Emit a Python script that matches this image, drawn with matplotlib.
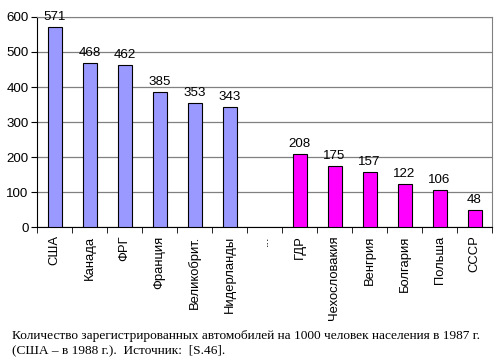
import matplotlib
matplotlib.use('Agg')
import matplotlib.pyplot as plt
import numpy as np

# data
countries = ['США', 'Канада', 'ФРГ', 'Франция', 'Великобрит.', 'Нидерланды',
             '...', 'ГДР', 'Чехословакия', 'Венгрия', 'Болгария', 'Польша', 'СССР']
cars = [571, 468, 462, 385, 353, 343, None, 208, 175, 157, 122, 106, 48]
group = ['west'] * 6 + [None] + ['east'] * 6
colors = {'west': '#9999FF', 'east': '#FF00FF'}
yticks = [0, 100, 200, 300, 400, 500, 600]
caption = ('Количество зарегистрированных автомобилей на 1000 человек населения в 1987 г.\n'
           '(США – в 1988 г.).  Источник:  [S.46].')

plt.rcParams['font.family'] = ['Liberation Sans', 'DejaVu Sans']

f = plt.figure(figsize=(5, 3.6), dpi=100)
ax = f.add_axes([0.074, 0.369, 0.910, 0.584])

x = np.arange(len(countries))
for i, (v, g) in enumerate(zip(cars, group)):
    if v is None:
        continue
    ax.bar(x[i], v, width=0.4, color=colors[g], edgecolor='black', linewidth=0.8, zorder=3)
    ax.text(x[i], v + 12, str(v), ha='center', va='bottom', fontsize=9.6)

ax.set_xlim(-0.5, len(countries) - 0.5)
ax.set_ylim(0, 600)
ax.set_yticks(yticks)
ax.tick_params(axis='y', labelsize=9.6, length=4, direction='out', pad=2)
ax.yaxis.grid(True, color='#808080', linewidth=0.9, zorder=0)

ax.set_xticks(x)
ax.set_xticklabels(countries, rotation=90, fontsize=9.4)
ax.set_xticks(np.arange(len(countries) + 1) - 0.5, minor=True)
ax.tick_params(axis='x', which='major', length=0, pad=6)
ax.tick_params(axis='x', which='minor', length=4, direction='out')

for s in ['top', 'right']:
    ax.spines[s].set_color('#808080')
for s in ['left', 'bottom']:
    ax.spines[s].set_color('black')

f.text(0.024, 0.047, caption, ha='left', va='center', fontsize=9.6,
       family=['Liberation Serif', 'DejaVu Serif'], linespacing=1.25)

f.savefig('out.png', dpi=100)
plt.close()
